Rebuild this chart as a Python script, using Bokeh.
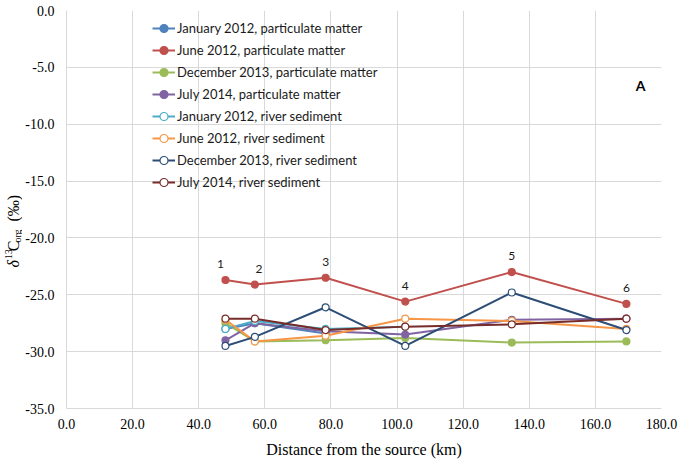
import math
from bokeh.plotting import figure
from bokeh.layouts import row
from bokeh.models import (Range1d, SingleIntervalTicker, PrintfTickFormatter, Legend,
                          LegendItem, Label, ColumnDataSource)
from bokeh.core.properties import value
from bokeh.embed import file_html
from bokeh.resources import INLINE

# ---------------- data ----------------
distance_km = [48.1, 57.0, 78.4, 102.5, 134.7, 169.4]
site_labels = ["1", "2", "3", "4", "5", "6"]

jan2012_pm = [-28.0, -27.5, -28.4]
jun2012_pm = [-23.7, -24.1, -23.5, -25.6, -23.0, -25.8]
dec2013_pm = [-27.5, -29.1, -29.0, -28.8, -29.2, -29.1]
jul2014_pm = [-29.0, -27.5, -28.2, -28.5, -27.2, -27.1]
jan2012_sed = [-28.0, -27.3, -28.0, -27.8]
jun2012_sed = [-27.2, -29.1, -28.6, -27.1, -27.3, -28.0]
dec2013_sed = [-29.5, -28.7, -26.1, -29.5, -24.8, -28.1]
jul2014_sed = [-27.1, -27.1, -28.1, -27.8, -27.6, -27.1]

series_names = [
    "January 2012, particulate matter",
    "June 2012, particulate matter",
    "December 2013, particulate matter",
    "July 2014, particulate matter",
    "January 2012, river sediment",
    "June 2012, river sediment",
    "December 2013, river sediment",
    "July 2014, river sediment",
]
series_values = [jan2012_pm, jun2012_pm, dec2013_pm, jul2014_pm,
                 jan2012_sed, jun2012_sed, dec2013_sed, jul2014_sed]
series_colors = ["#4F81BD", "#C0504D", "#9BBB59", "#8064A2",
                 "#4BACC6", "#F79646", "#2C4D75", "#772C2A"]
series_open = [False, False, False, False, True, True, True, True]

x_ticks_interval = 20
y_ticks_interval = 5

LABEL_W = 22
TOTAL_W, TOTAL_H = 680, 465

# ---------------- main figure ----------------
p = figure(width=TOTAL_W - LABEL_W, height=TOTAL_H, output_backend="svg", toolbar_location=None,
           x_range=Range1d(0, 180), y_range=Range1d(-35, 0),
           min_border_left=65 - LABEL_W, min_border_right=19, min_border_top=10,
           min_border_bottom=57)
p.outline_line_color = None
p.background_fill_color = "white"
p.border_fill_color = "white"

p.xaxis.ticker = SingleIntervalTicker(interval=x_ticks_interval)
p.yaxis.ticker = SingleIntervalTicker(interval=y_ticks_interval)
p.axis.formatter = PrintfTickFormatter(format="%.1f")
p.axis.major_tick_line_color = None
p.axis.minor_tick_line_color = None
p.axis.major_tick_out = 0
p.axis.major_tick_in = 0
p.axis.minor_tick_out = 0
p.axis.minor_tick_in = 0
p.axis.axis_line_color = "#D9D9D9"
p.axis.major_label_text_font = "Liberation Serif"
p.axis.major_label_text_font_size = "14px"
p.axis.major_label_text_color = "black"

p.xaxis.major_label_standoff = 10
p.yaxis.major_label_standoff = 12
p.xaxis.axis_label = "Distance from the source (km)"
p.xaxis.axis_label_text_font = "Liberation Serif"
p.xaxis.axis_label_text_font_size = "16px"
p.xaxis.axis_label_text_font_style = "normal"
p.xaxis.axis_label_text_color = "black"
p.xaxis.axis_label_standoff = 9

p.xgrid.ticker = SingleIntervalTicker(interval=x_ticks_interval)
p.ygrid.ticker = SingleIntervalTicker(interval=y_ticks_interval)
p.grid.grid_line_color = "#D9D9D9"
p.grid.grid_line_width = 1

items = []
for name, vals, col, is_open in zip(series_names, series_values, series_colors, series_open):
    src = ColumnDataSource(dict(x=distance_km[:len(vals)], y=vals))
    ln = p.line("x", "y", source=src, line_color=col, line_width=2)
    sc = p.scatter("x", "y", source=src, size=7, line_color=col, line_width=1.2,
                   fill_color="white" if is_open else col)
    items.append(LegendItem(label=name, renderers=[ln, sc]))

legend = Legend(items=items, location=(86, 216))
legend.background_fill_alpha = 0
legend.border_line_color = None
legend.label_text_font = "Lato"
legend.label_text_font_size = "13px"
legend.label_text_color = "#1a1a1a"
legend.label_height = 20
legend.glyph_height = 20
legend.glyph_width = 23
legend.label_standoff = 2
legend.spacing = 2
legend.padding = 5
legend.margin = 0
p.add_layout(legend)

# site number labels above the June 2012 particulate matter points
site_src = ColumnDataSource(dict(x=distance_km, y=jun2012_pm, t=site_labels,
                                 dx=[-5, 4, 0, 0, 0, 0]))
p.text("x", "y", text="t", source=site_src, x_offset="dx", y_offset=-16,
       text_font=value("Lato"), text_font_size="12px", text_color="#1a1a1a",
       text_align="center", text_baseline="middle")

# panel letter
p.add_layout(Label(x=173.7, y=-6.63, text="A", text_font="Lato", text_font_size="14px",
                   text_font_style="bold", text_color="black",
                   text_align="center", text_baseline="middle"))

# ---------------- y-axis title strip (rich text: italic delta, superscript, subscript) ----------------
lab = figure(width=LABEL_W, height=TOTAL_H, output_backend="svg", toolbar_location=None,
             x_range=Range1d(0, LABEL_W), y_range=Range1d(0, TOTAL_H), title=None,
             min_border=0, min_border_left=0, min_border_right=0,
             min_border_top=0, min_border_bottom=0,
             x_axis_type=None, y_axis_type=None)
lab.outline_line_color = None
lab.grid.visible = False
lab.background_fill_color = "white"
lab.border_fill_color = "white"

# (text, centre x px, centre y px from top, size, style) -- centred so rotation is symmetric
V_SCALE = 1.1  # strip frame maps slightly shorter than its canvas
pieces = [
    ("\u03b4", 13, 269, "16px", "italic"),
    ("13", 8, 259, "10px", "normal"),
    ("C", 13, 250, "16px", "normal"),
    ("org", 16.5, 239.5, "10px", "normal"),
    ("(\u2030)", 13, 210, "16px", "normal"),
]
for txt, cx, cy, fs, style in pieces:
    lab.text(x=[cx], y=[TOTAL_H - cy * V_SCALE], text=[txt], angle=math.pi / 2,
             text_font=value("Liberation Serif"), text_font_size=fs,
             text_font_style=style, text_color="black",
             text_align="center", text_baseline="middle")

layout = row(lab, p, spacing=0)
open("out.html", "w").write(file_html(layout, INLINE))
